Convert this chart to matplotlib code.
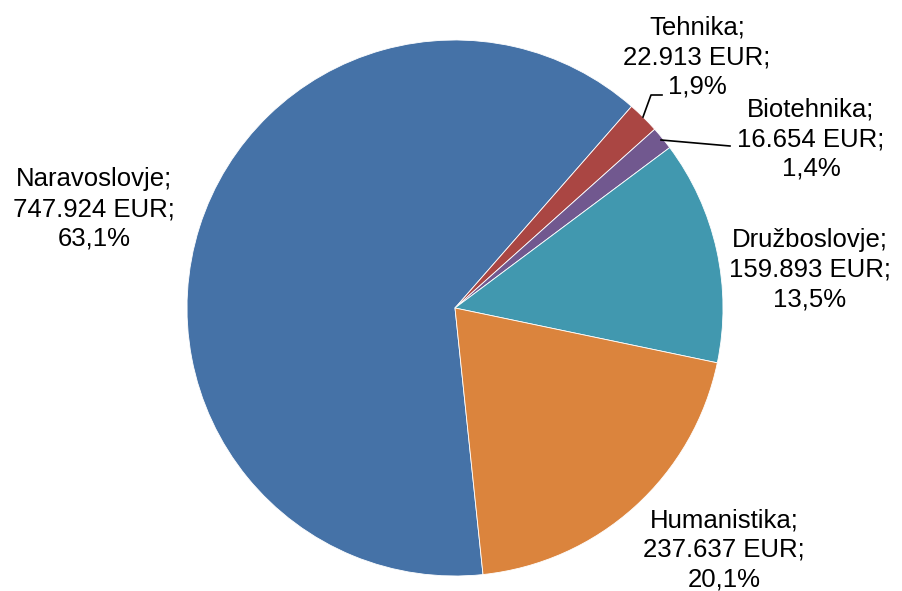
import matplotlib
matplotlib.use("Agg")
import matplotlib.pyplot as plt

categories = ["Naravoslovje", "Tehnika", "Biotehnika", "Družboslovje", "Humanistika"]
values = [747924, 22913, 16654, 159893, 237637]
value_labels = ["747.924 EUR", "22.913 EUR", "16.654 EUR", "159.893 EUR", "237.637 EUR"]
pct_labels = ["63,1%", "1,9%", "1,4%", "13,5%", "20,1%"]
colors = ["#4572A7", "#AA4643", "#71588F", "#4198AF", "#DB843D"]

W, H = 902, 591
fig = plt.figure(figsize=(W / 100, H / 100), dpi=100)
ax = fig.add_axes([0, 0, 1, 1])
ax.set_xlim(0, W)
ax.set_ylim(0, H)
ax.set_aspect("equal")
ax.axis("off")

cx, cy, r = 455, H - 308, 268
ax.pie(values, colors=colors, startangle=-84, counterclock=False,
       center=(cx, cy), radius=r, frame=True,
       wedgeprops=dict(edgecolor="white", linewidth=0.6))
ax.set_xlim(0, W)
ax.set_ylim(0, H)
ax.axis("off")

label_pos = [(94, H - 209), (697, H - 57), (811, H - 139), (810, H - 270), (724, H - 550)]
for cat, v, p, (x, y) in zip(categories, value_labels, pct_labels, label_pos):
    ax.text(x, y, f"{cat};\n{v};\n{p}", ha="center", va="center",
            fontsize=18.5, family="Liberation Sans", linespacing=1.3, color="black")

# leader lines
ax.plot([643, 651, 662], [H - 117, H - 95, H - 95], color="black", lw=1.2)
ax.plot([661, 730], [H - 140, H - 146], color="black", lw=1.2)

fig.savefig("out.png", dpi=100)
